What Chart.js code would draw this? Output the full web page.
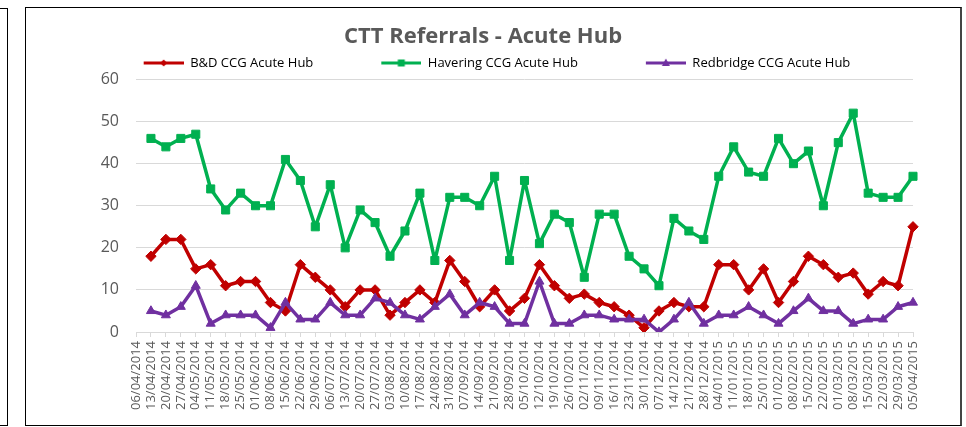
<!DOCTYPE html>
<html>
<head>
<meta charset="utf-8">
<title>CTT Referrals - Acute Hub</title>
<script src="https://cdn.jsdelivr.net/npm/chart.js@4.4.1/dist/chart.umd.min.js"></script>
<style>
  body { margin: 0; background: #fff; }
  #prev { position: absolute; left: -4px; top: 8px; width: 10px; height: 416px; border: 1px solid #000; }
  #frame { position: absolute; left: 25px; top: 7px; width: 934px; height: 417px; border: 1px solid #000; border-right: 2px solid #444; }
  #wrap { position: absolute; left: 0; top: 0; width: 934px; height: 417px; }
</style>
</head>
<body>
<div id="prev"></div>
<div id="frame"><div id="wrap"><canvas id="lineChart"></canvas></div></div>
<script>
var weeks = ['06/04/2014', '13/04/2014', '20/04/2014', '27/04/2014', '04/05/2014', '11/05/2014',
    '18/05/2014', '25/05/2014', '01/06/2014', '08/06/2014', '15/06/2014', '22/06/2014', '29/06/2014',
    '06/07/2014', '13/07/2014', '20/07/2014', '27/07/2014', '03/08/2014', '10/08/2014', '17/08/2014',
    '24/08/2014', '31/08/2014', '07/09/2014', '14/09/2014', '21/09/2014', '28/09/2014', '05/10/2014',
    '12/10/2014', '19/10/2014', '26/10/2014', '02/11/2014', '09/11/2014', '16/11/2014', '23/11/2014',
    '30/11/2014', '07/12/2014', '14/12/2014', '21/12/2014', '28/12/2014', '04/01/2015', '11/01/2015',
    '18/01/2015', '25/01/2015', '01/02/2015', '08/02/2015', '15/02/2015', '22/02/2015', '01/03/2015',
    '08/03/2015', '15/03/2015', '22/03/2015', '29/03/2015', '05/04/2015'];

var seriesNames = ['B&D CCG Acute Hub', 'Havering CCG Acute Hub', 'Redbridge CCG Acute Hub'];

var bdValues = [null, 18, 22, 22, 15, 16, 11, 12, 12, 7, 5, 16, 13, 10, 6, 10, 10, 4, 7, 10, 7,
    17, 12, 6, 10, 5, 8, 16, 11, 8, 9, 7, 6, 4, 1, 5, 7, 6, 6, 16, 16, 10, 15, 7, 12, 18, 16,
    13, 14, 9, 12, 11, 25];
var haveringValues = [null, 46, 44, 46, 47, 34, 29, 33, 30, 30, 41, 36, 25, 35, 20, 29, 26, 18,
    24, 33, 17, 32, 32, 30, 37, 17, 36, 21, 28, 26, 13, 28, 28, 18, 15, 11, 27, 24, 22, 37, 44,
    38, 37, 46, 40, 43, 30, 45, 52, 33, 32, 32, 37];
var redbridgeValues = [null, 5, 4, 6, 11, 2, 4, 4, 4, 1, 7, 3, 3, 7, 4, 4, 8, 7, 4, 3, 6, 9, 4,
    7, 6, 2, 2, 12, 2, 2, 4, 4, 3, 3, 3, 0, 3, 7, 2, 4, 4, 6, 4, 2, 5, 8, 5, 5, 2, 3, 3, 6, 7];

var yTicks = [0, 10, 20, 30, 40, 50, 60];

var colors = ['#C00000', '#00B050', '#7030A0'];
var markers = ['rectRot', 'rect', 'triangle'];
var textColor = '#595959';
var gridColor = '#D9D9D9';

// small line + marker picture for each legend entry (blank gap on the left)
var iconGap = 28;
function legendIcon(color, marker) {
    var c = document.createElement('canvas');
    c.width = iconGap + 40;
    c.height = 12;
    var g = c.getContext('2d');
    var mid = iconGap + 20;
    g.strokeStyle = color;
    g.fillStyle = color;
    g.lineWidth = 3;
    g.beginPath();
    g.moveTo(iconGap, 6);
    g.lineTo(iconGap + 40, 6);
    g.stroke();
    g.beginPath();
    if (marker === 'rectRot') {
        g.moveTo(mid, 2.5); g.lineTo(mid + 3.5, 6); g.lineTo(mid, 9.5); g.lineTo(mid - 3.5, 6);
    } else if (marker === 'rect') {
        g.rect(mid - 3.5, 2.5, 7, 7);
    } else {
        g.moveTo(mid, 1.5); g.lineTo(mid + 4, 9); g.lineTo(mid - 4, 9);
    }
    g.closePath();
    g.fill();
    return c;
}

var allValues = [bdValues, haveringValues, redbridgeValues];
var datasets = allValues.map(function (vals, i) {
    return {
        label: seriesNames[i],
        data: vals,
        borderColor: colors[i],
        backgroundColor: colors[i],
        borderWidth: 3.5,
        borderJoinStyle: 'round',
        borderCapStyle: 'round',
        tension: 0,
        pointStyle: markers[i],
        pointRadius: i === 1 ? 5.7 : 5.2,
        pointBorderWidth: 1,
        pointBackgroundColor: colors[i],
        pointBorderColor: colors[i],
        order: 2 - i
    };
});

document.addEventListener('DOMContentLoaded', function () {
    var ctx = document.getElementById('lineChart').getContext('2d');
    var lineChart = new Chart(ctx, {
        type: 'line',
        data: {
            labels: weeks,
            datasets: datasets
        },
        options: {
            responsive: true,
            maintainAspectRatio: false,
            animation: false,
            layout: { padding: { left: 27, right: 47, top: 0, bottom: 8 } },
            plugins: {
                title: {
                    display: true,
                    text: 'CTT Referrals - Acute Hub',
                    color: textColor,
                    font: { family: 'Open Sans', size: 22, weight: 'bold' },
                    padding: { top: 15.5, bottom: -33.4 }
                },
                legend: {
                    display: true,
                    position: 'top',
                    align: 'center',
                    labels: {
                        color: textColor,
                        font: { family: 'Open Sans', size: 13 },
                        padding: 40,
                        usePointStyle: true,
                        pointStyleWidth: iconGap + 40,
                        generateLabels: function (chart) {
                            return chart.data.datasets.map(function (ds, i) {
                                return {
                                    text: ds.label,
                                    pointStyle: legendIcon(colors[i], markers[i]),
                                    fillStyle: colors[i],
                                    strokeStyle: colors[i],
                                    lineWidth: 0,
                                    hidden: false,
                                    datasetIndex: i
                                };
                            });
                        }
                    }
                },
                tooltip: { enabled: false }
            },
            scales: {
                x: {
                    offset: false,
                    afterFit: function (scale) { scale.height = 85; },
                    grid: {
                        display: true,
                        drawOnChartArea: false,
                        drawTicks: true,
                        tickLength: 5,
                        color: gridColor
                    },
                    border: { display: true, color: gridColor, width: 1 },
                    ticks: {
                        autoSkip: false,
                        minRotation: 90,
                        maxRotation: 90,
                        padding: 4,
                        color: textColor,
                        font: { family: 'Open Sans', size: 13 }
                    }
                },
                y: {
                    min: yTicks[0],
                    max: yTicks[yTicks.length - 1],
                    afterFit: function (scale) { scale.width = 83; },
                    afterBuildTicks: function (scale) {
                        scale.ticks = yTicks.map(function (v) { return { value: v }; });
                    },
                    grid: { color: gridColor, drawTicks: false },
                    border: { display: false },
                    ticks: {
                        padding: 17,
                        color: textColor,
                        font: { family: 'Open Sans', size: 16 }
                    }
                }
            }
        }
    });
});
</script>
</body>
</html>
